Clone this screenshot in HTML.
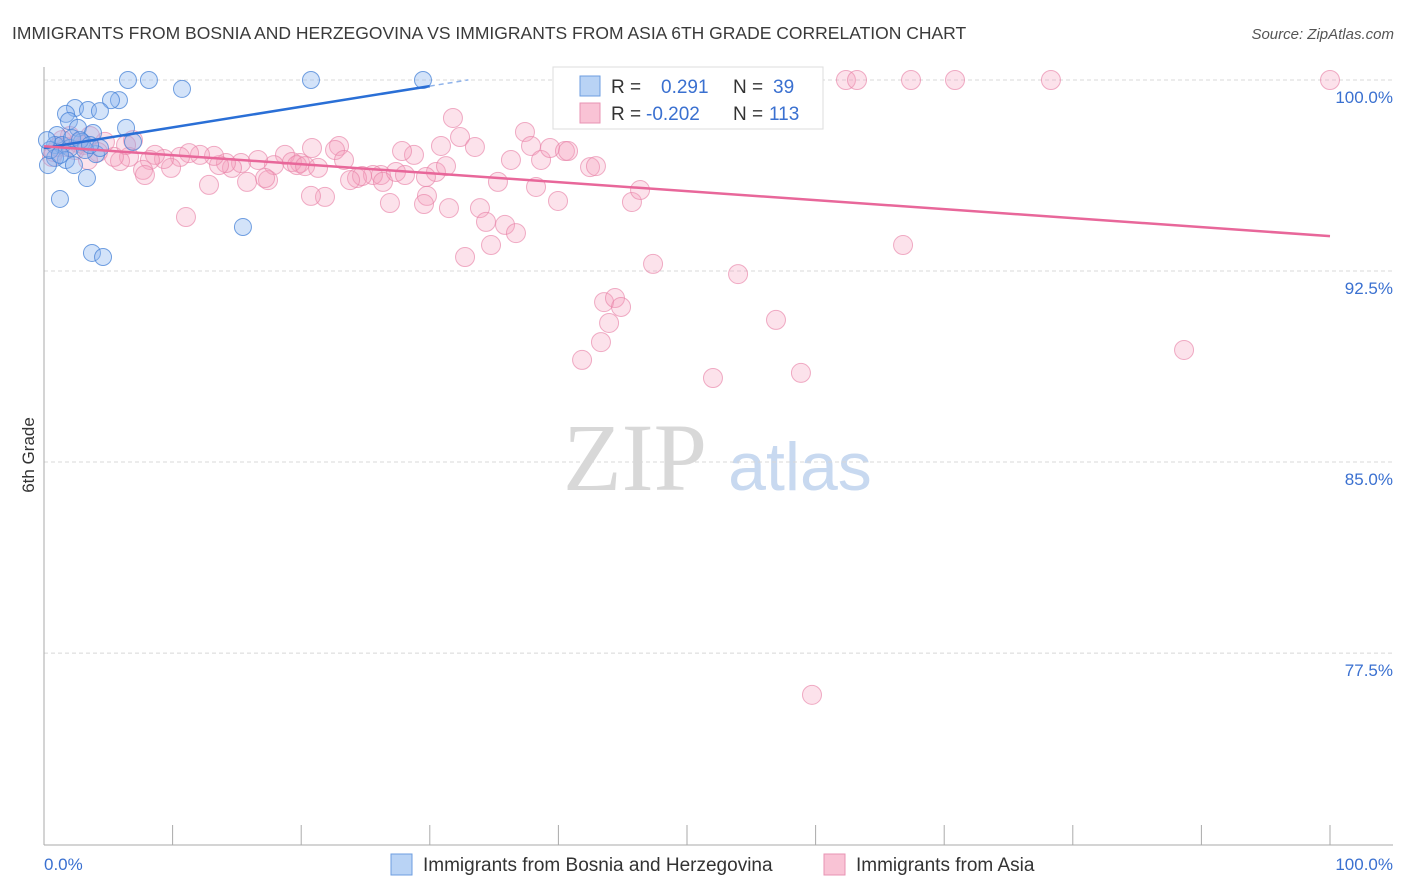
<!DOCTYPE html>
<html><head><meta charset="utf-8">
<style>
body{margin:0;background:#fff;font-family:"Liberation Sans",sans-serif;}
#wrap{position:relative;width:1406px;height:892px;overflow:hidden;}
</style></head>
<body>
<div id="wrap">
<svg id="chart" width="1406" height="892" xmlns="http://www.w3.org/2000/svg">
<text x="12" y="39" font-size="17.5" fill="#3a3a3a">IMMIGRANTS FROM BOSNIA AND HERZEGOVINA VS IMMIGRANTS FROM ASIA 6TH GRADE CORRELATION CHART</text>
<text x="1394" y="39" font-size="15" fill="#555" font-style="italic" text-anchor="end">Source: ZipAtlas.com</text>
<text x="635" y="490" font-size="96" fill="#d8d8d8" font-family="Liberation Serif, serif" text-anchor="middle">ZIP</text>
<text x="800" y="490" font-size="68" fill="#c8d9f0" text-anchor="middle">atlas</text>
<g id="grid"></g>
<g id="axes"></g>
<g id="pts"></g>
<g id="trends"></g>
<text transform="translate(34,455) rotate(-90)" font-size="17" fill="#333" text-anchor="middle">6th Grade</text>
<g>
<rect x="553" y="67" width="270" height="62" fill="#fff" stroke="#ddd"/>
<rect x="580" y="76" width="20" height="20" fill="#b9d3f5" stroke="#6d9ee0"/>
<rect x="580" y="103" width="20" height="20" fill="#f9c3d5" stroke="#e893b3"/>
<text x="611" y="93" font-size="19" fill="#333">R =</text>
<text x="661" y="93" font-size="19" fill="#3a70d0">0.291</text>
<text x="733" y="93" font-size="19" fill="#333">N =</text>
<text x="773" y="93" font-size="19" fill="#3a70d0">39</text>
<text x="611" y="120" font-size="19" fill="#333">R =</text>
<text x="646" y="120" font-size="19" fill="#3a70d0">-0.202</text>
<text x="733" y="120" font-size="19" fill="#333">N =</text>
<text x="769" y="120" font-size="19" fill="#3a70d0">113</text>
</g>
<g>
<rect x="391" y="854" width="21" height="21" fill="#b9d3f5" stroke="#6d9ee0"/>
<text x="423" y="871" font-size="19" fill="#333">Immigrants from Bosnia and Herzegovina</text>
<rect x="824" y="854" width="21" height="21" fill="#f9c3d5" stroke="#e893b3"/>
<text x="856" y="871" font-size="19" fill="#333">Immigrants from Asia</text>
</g>
</svg>
</div>
<script>
const yTicks=[100,92.5,85,77.5];
const yTickLabels=["100.0%","92.5%","85.0%","77.5%"];
const xTickLabels=["0.0%","100.0%"];
const blueX=[6.53,8.16,20.76,29.47,10.73,5.83,5.21,2.41,3.42,4.35,1.71,1.94,2.64,6.38,3.81,6.92,1.01,0.86,1.4,2.02,2.95,4.04,1.71,2.33,0.86,3.34,1.24,15.47,3.73,4.59,0.31,0.47,0.23,4.35,3.19,1.24,2.18,2.8,3.58];
const blueY=[100,100,100,100,99.65,99.21,99.21,98.9,98.82,98.78,98.67,98.39,98.12,98.12,97.92,97.57,97.84,97.45,97.45,97.33,97.57,97.09,96.86,96.66,96.94,96.15,95.33,94.23,93.21,93.05,96.66,97.25,97.64,97.33,97.25,97.06,97.72,97.64,97.45];
const pinkX=[53.27,62.36,63.22,67.42,70.84,78.3,100,52.72,50.23,31.8,32.35,30.87,33.51,37.4,37.87,38.65,39.35,40.51,40.75,42.46,42.92,36.31,35.3,38.26,30.48,28.77,27.84,26.2,25.58,24.34,24.73,26.36,27.37,28.07,29.7,29.78,31.49,33.9,34.37,35.85,36.7,34.76,32.74,29.55,26.9,39.97,45.72,46.35,43.55,44.4,44.87,43.94,43.31,41.84,47.36,52.02,53.97,56.92,58.86,66.8,88.65,59.72,22.94,22.63,23.33,20.84,19.91,18.74,19.28,19.67,20.3,21.31,17.88,17.42,16.64,15.79,15.32,14.62,14.15,13.61,13.22,12.83,12.13,11.28,11.04,10.58,9.88,9.33,8.63,8.24,7.7,6.92,6.61,5.91,5.44,4.74,4.2,3.58,3.11,2.64,2.02,1.4,0.78,0.62,1.09,1.71,2.41,3.42,7.85,6.38,17.19,21.85,20.76,23.8,31.26];
const pinkY=[100,100,100,100,100,100,100,100,98.51,98.51,97.76,97.41,97.37,97.96,97.41,96.86,97.33,97.21,97.21,96.58,96.62,96.86,96.0,95.8,96.39,97.06,97.21,96.27,96.27,96.15,96.23,96.0,96.39,96.27,96.19,95.45,94.97,94.97,94.43,94.31,93.99,93.52,93.05,95.13,95.17,95.25,95.21,95.68,91.28,91.44,91.09,90.46,89.71,89.01,92.78,88.3,92.38,90.58,88.5,93.52,89.4,75.86,97.41,97.25,96.86,97.33,96.74,97.06,96.78,96.66,96.62,96.55,96.66,96.07,96.86,96.0,96.74,96.55,96.74,96.66,97.02,95.88,97.06,97.13,94.62,96.98,96.55,96.9,97.06,96.86,96.47,97.64,96.98,96.82,96.98,97.57,97.17,97.8,97.45,97.53,97.8,97.64,97.17,96.98,97.37,97.37,97.25,96.86,96.27,97.45,96.15,95.41,95.45,96.07,96.62];
const blueTrendX=[0,30];
const blueTrendY=[97.33,99.76];
const pinkTrendX=[0,100];
const pinkTrendY=[97.4,93.87];

const NS="http://www.w3.org/2000/svg";
const X0=44,X1=1330,YTOP=80,PXPER=25.47;
function sx(v){return X0+(X1-X0)*v/100;}
function sy(v){return YTOP+(100-v)*PXPER;}
function mk(tag,attrs,parent){const e=document.createElementNS(NS,tag);for(const k in attrs)e.setAttribute(k,attrs[k]);parent.appendChild(e);return e;}
const grid=document.getElementById('grid'),axes=document.getElementById('axes'),pts=document.getElementById('pts'),tr=document.getElementById('trends');
yTicks.forEach((t,i)=>{
  const l=mk('line',{x1:X0,x2:1393,y1:sy(t),y2:sy(t),stroke:'#d8d8d8','stroke-dasharray':'4,3'},grid);
  
  
  const tx=mk('text',{x:1393,y:sy(t)+23,'font-size':17,fill:'#3a70d0','text-anchor':'end'},grid);
  tx.textContent=yTickLabels[i];
  
  
});
const ya=mk('line',{x1:X0,x2:X0,y1:67,y2:845,stroke:'#aaa'},axes);


const xa=mk('line',{x1:X0,x2:1393,y1:845,y2:845,stroke:'#aaa'},axes);


for(let k=0;k<=10;k++){
  const t=mk('line',{x1:sx(k*10),x2:sx(k*10),y1:825,y2:845,stroke:'#aaa'},axes);
  
  
}
[0,100].forEach((v,i)=>{
  const tx=mk('text',{x:i?1393:44,y:870,'font-size':17,fill:'#3a70d0','text-anchor':i?'end':'start'},axes);
  tx.textContent=xTickLabels[i];
  
  
});
pinkX.forEach((x,i)=>{
  const c=mk('circle',{cx:sx(x),cy:sy(pinkY[i]),r:9.5,fill:'rgba(244,160,190,0.3)',stroke:'rgba(232,130,168,0.65)','stroke-width':1},pts);
  
  
});
blueX.forEach((x,i)=>{
  const c=mk('circle',{cx:sx(x),cy:sy(blueY[i]),r:8.5,fill:'rgba(140,182,240,0.38)',stroke:'rgba(70,130,215,0.75)','stroke-width':1},pts);
  
  
});
const bl=mk('line',{x1:sx(blueTrendX[0]),y1:sy(blueTrendY[0]),x2:sx(blueTrendX[1]),y2:sy(blueTrendY[1]),stroke:'#2a6fd6','stroke-width':2.5},tr);


const slope=(blueTrendY[1]-blueTrendY[0])/(blueTrendX[1]-blueTrendX[0]);
const bd=mk('line',{x1:sx(blueTrendX[1]),y1:sy(blueTrendY[1]),x2:sx(33),y2:sy(blueTrendY[1]+slope*3),stroke:'#8fb3ea','stroke-width':1.5,'stroke-dasharray':'5,4'},tr);


const pl=mk('line',{x1:sx(pinkTrendX[0]),y1:sy(pinkTrendY[0]),x2:sx(pinkTrendX[1]),y2:sy(pinkTrendY[1]),stroke:'#e8679a','stroke-width':2.5},tr);


</script>
</body></html>
